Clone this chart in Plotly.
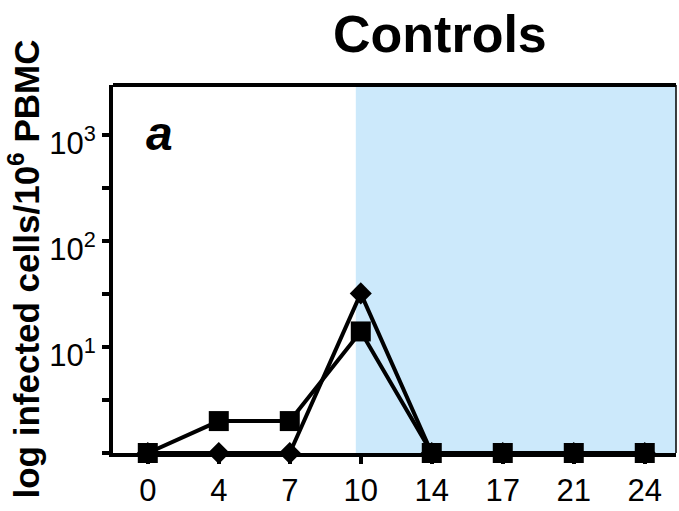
import plotly.graph_objects as go

days = ["0", "4", "7", "10", "14", "17", "21", "24"]
squares = [1, 2, 2, 14, 1, 1, 1, 1]
diamonds = [1, 1, 1, 32, 1, 1, 1, 1]
ytick_vals = [1, 10, 100, 1000]
ytick_text = ["", "10<sup>1</sup>", "10<sup>2</sup>", "10<sup>3</sup>"]
minor_vals = [10 ** 0.5, 10 ** 1.5, 10 ** 2.5]
shade_start = 2.93

xi = list(range(len(days)))
FONT = "Liberation Sans, Arial, sans-serif"

fig = go.Figure()
fig.add_trace(go.Scatter(
    x=xi, y=diamonds, mode="lines+markers", cliponaxis=False,
    line=dict(color="black", width=4),
    marker=dict(symbol="diamond", size=17, color="black"),
    showlegend=False))
fig.add_trace(go.Scatter(
    x=xi, y=squares, mode="lines+markers", cliponaxis=False,
    line=dict(color="black", width=4),
    marker=dict(symbol="square", size=20, color="black"),
    showlegend=False))

fig.add_shape(type="rect", xref="x", yref="paper", x0=shade_start, x1=7.44,
              y0=0, y1=1, fillcolor="#CCE9FB", line_width=0, layer="below")
fig.add_shape(type="line", xref="paper", yref="paper", x0=0, x1=1, y0=1, y1=1,
              line=dict(color="black", width=4))
fig.add_shape(type="line", xref="paper", yref="paper", x0=1, x1=1, y0=0, y1=1,
              line=dict(color="black", width=1.5))

fig.update_layout(
    width=679, height=511,
    margin=dict(l=113, r=3, t=85, b=49),
    plot_bgcolor="white", paper_bgcolor="white",
    font=dict(family=FONT, color="black"),
    xaxis=dict(range=[-0.49, 7.44], tickvals=xi, ticktext=days,
               showline=True, linecolor="black", linewidth=4,
               ticks="outside", ticklen=7, tickwidth=4, tickcolor="black",
               showgrid=False, zeroline=False,
               tickfont=dict(size=31, family=FONT, color="black")),
    yaxis=dict(type="log", range=[0, 3.47], tickvals=ytick_vals, ticktext=ytick_text,
               showline=True, linecolor="black", linewidth=4,
               ticks="outside", ticklen=7, tickwidth=4, tickcolor="black",
               minor=dict(tickvals=minor_vals, ticks="outside", ticklen=7,
                          tickwidth=4, tickcolor="black", showgrid=False),
               showgrid=False, zeroline=False, ticklabelshift=8,
               tickfont=dict(size=31, family=FONT, color="black"),
               title=dict(text="<b>log infected cells/10<sup>6</sup> PBMC</b>",
                          font=dict(size=35, family=FONT, color="black"),
                          standoff=0)),
)

fig.add_annotation(text="<b>Controls</b>", xref="paper", yref="paper",
                   x=(440 - 113) / 563, y=1 + (85 - 33) / 377,
                   xanchor="center", yanchor="middle", showarrow=False,
                   font=dict(size=52, family=FONT, color="black"))
fig.add_annotation(text="<b><i>a</i></b>", xref="paper", yref="paper",
                   x=(159 - 113) / 563, y=1 - (135 - 85) / 377,
                   xanchor="center", yanchor="middle", showarrow=False,
                   font=dict(size=48, family=FONT, color="black"))

fig.write_html("out.html")
